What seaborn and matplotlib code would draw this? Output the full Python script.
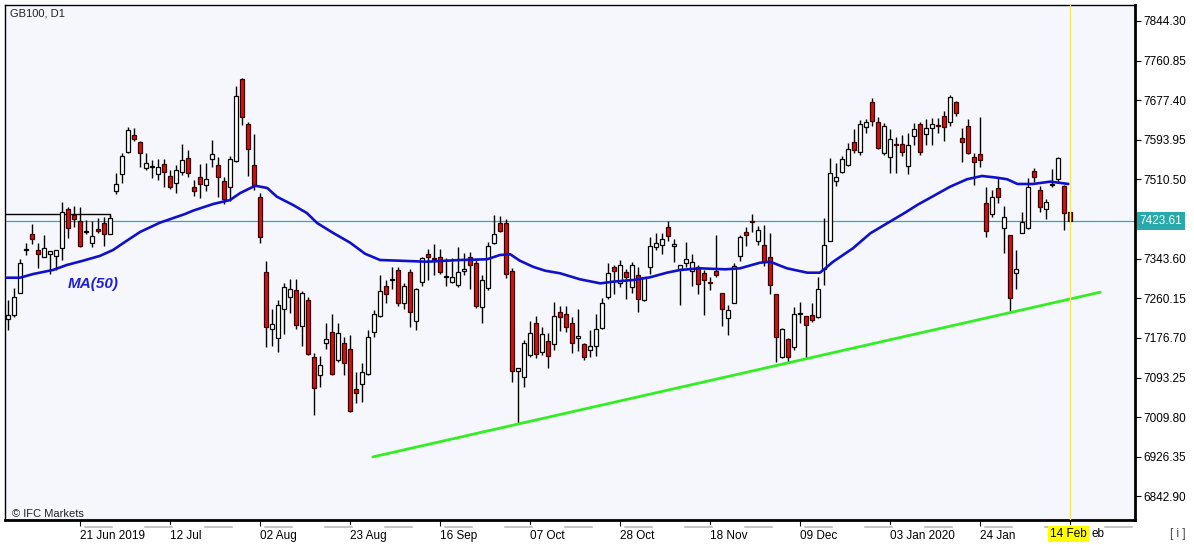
import numpy as np
import pandas as pd
import matplotlib
matplotlib.use("Agg")
import matplotlib.pyplot as plt
import matplotlib.transforms as mtransforms
import seaborn as sns

# ---------------- data (GB100, D1) ----------------
opens = [
    7216.5, 7224.9, 7271.3, 7361.9, 7395.6, 7361.9, 7347.3, 7353.5, 7349.4, 7366.1,
    7448.3, 7435.6, 7423.0, 7399.8, 7376.6, 7406.1, 7418.8, 7395.6, 7486.2, 7521.9,
    7568.3, 7604.1, 7589.4, 7534.6, 7536.7, 7521.9, 7543.1, 7517.8, 7503.0, 7526.2,
    7555.7, 7494.6, 7515.7, 7498.8, 7553.6, 7540.9, 7507.2, 7494.6, 7549.4, 7722.1,
    7627.3, 7540.9, 7473.5, 7315.6, 7195.5, 7176.5, 7237.6, 7262.9, 7277.6, 7201.8,
    7256.6, 7136.5, 7098.6, 7165.9, 7189.1, 7130.2, 7165.9, 7153.3, 7069.1, 7079.6,
    7100.7, 7189.1, 7222.9, 7286.0, 7298.7, 7319.8, 7250.2, 7315.6, 7212.3, 7294.5,
    7353.5, 7344.5, 7347.3, 7305.0, 7294.5, 7288.2, 7317.7, 7347.3, 7334.5, 7241.8,
    7281.8, 7376.6, 7418.8, 7418.8, 7317.7, 7107.0, 7094.4, 7140.7, 7208.1, 7147.0,
    7170.2, 7163.9, 7231.3, 7227.1, 7208.1, 7176.5, 7163.9, 7151.2, 7159.6, 7197.6,
    7262.9, 7326.1, 7292.4, 7315.6, 7284.0, 7309.2, 7256.6, 7326.1, 7368.2, 7372.4,
    7410.3, 7370.3, 7321.9, 7334.5, 7317.7, 7326.1, 7313.4, 7294.5, 7317.7, 7271.3,
    7218.6, 7250.2, 7349.4, 7399.8, 7423.0, 7380.8, 7372.4, 7347.3, 7269.2, 7136.5,
    7174.4, 7157.5, 7227.1, 7222.9, 7225.0, 7220.7, 7321.9, 7380.8, 7507.2, 7526.2,
    7540.9, 7589.4, 7568.3, 7621.0, 7673.7, 7631.5, 7566.2, 7557.8, 7585.2, 7585.2,
    7538.8, 7602.0, 7627.3, 7606.2, 7618.9, 7625.2, 7644.2, 7631.5, 7673.7, 7597.8,
    7623.1, 7557.8, 7564.1, 7460.9, 7437.7, 7492.5, 7408.2, 7393.5, 7313.4, 7397.7,
    7408.2, 7528.3, 7488.3, 7448.3, 7498.8, 7511.5, 7496.7, 7442.0,
]
highs = [
    7256.6, 7281.8, 7343.0, 7376.6, 7416.7, 7376.6, 7393.5, 7359.8, 7361.9, 7463.0,
    7452.5, 7454.6, 7452.5, 7425.1, 7423.0, 7429.3, 7431.4, 7435.6, 7524.1, 7566.2,
    7621.0, 7618.9, 7591.5, 7566.2, 7551.5, 7553.6, 7553.6, 7530.4, 7541.0, 7585.2,
    7572.6, 7509.4, 7543.1, 7545.2, 7593.6, 7557.8, 7515.7, 7559.9, 7707.4, 7724.2,
    7631.5, 7606.2, 7482.0, 7338.7, 7237.6, 7256.6, 7292.4, 7300.8, 7300.8, 7275.5,
    7262.9, 7144.9, 7138.6, 7208.1, 7227.1, 7208.1, 7178.5, 7182.8, 7104.9, 7123.9,
    7193.4, 7235.5, 7309.2, 7298.7, 7326.1, 7326.1, 7292.4, 7321.9, 7281.8, 7347.1,
    7364.0, 7374.5, 7364.0, 7345.0, 7345.0, 7368.2, 7355.6, 7357.7, 7340.8, 7309.2,
    7378.7, 7435.6, 7433.5, 7427.2, 7324.0, 7113.3, 7172.3, 7212.3, 7222.9, 7199.7,
    7187.0, 7252.3, 7243.9, 7243.9, 7220.7, 7237.6, 7166.0, 7193.4, 7227.1, 7260.8,
    7334.5, 7330.3, 7340.8, 7321.9, 7336.6, 7326.1, 7300.8, 7389.3, 7397.7, 7397.7,
    7423.0, 7385.1, 7330.3, 7378.7, 7353.5, 7330.3, 7319.8, 7305.0, 7393.5, 7271.3,
    7246.0, 7334.5, 7393.5, 7410.3, 7437.7, 7412.4, 7414.6, 7397.7, 7269.2, 7197.6,
    7176.5, 7241.8, 7252.3, 7222.9, 7250.2, 7305.0, 7429.3, 7555.7, 7545.2, 7559.9,
    7587.3, 7616.8, 7635.7, 7637.9, 7682.1, 7642.1, 7629.4, 7616.8, 7599.9, 7604.1,
    7608.4, 7629.4, 7631.5, 7637.9, 7640.0, 7640.0, 7654.7, 7688.4, 7675.8, 7618.9,
    7637.9, 7566.2, 7642.1, 7494.6, 7488.3, 7515.7, 7454.6, 7393.5, 7361.9, 7441.9,
    7513.5, 7534.6, 7496.7, 7469.3, 7532.5, 7557.8, 7498.8, 7442.0,
]
lows = [
    7193.4, 7220.7, 7271.3, 7351.4, 7374.6, 7324.0, 7347.3, 7311.3, 7319.8, 7340.8,
    7387.2, 7410.3, 7368.2, 7395.6, 7368.2, 7397.7, 7370.3, 7395.6, 7479.9, 7503.0,
    7566.2, 7591.5, 7536.7, 7530.4, 7513.5, 7509.4, 7494.6, 7490.4, 7482.0, 7519.9,
    7515.7, 7475.6, 7471.4, 7486.2, 7536.7, 7473.5, 7458.8, 7465.1, 7547.3, 7625.2,
    7517.8, 7488.3, 7376.6, 7157.5, 7159.6, 7147.0, 7185.0, 7229.2, 7195.5, 7159.6,
    7140.7, 7014.3, 7073.3, 7153.3, 7098.6, 7126.0, 7098.6, 7020.6, 7039.6, 7041.7,
    7098.6, 7178.5, 7220.7, 7250.2, 7279.7, 7243.9, 7237.6, 7199.7, 7193.4, 7286.0,
    7298.7, 7309.2, 7311.3, 7286.0, 7292.4, 7284.0, 7309.2, 7279.7, 7239.7, 7208.1,
    7277.6, 7374.5, 7399.8, 7302.9, 7083.8, 6997.5, 7073.3, 7136.5, 7134.4, 7140.7,
    7113.3, 7151.2, 7191.3, 7189.1, 7144.9, 7149.1, 7130.2, 7136.5, 7138.6, 7195.5,
    7258.7, 7269.2, 7284.0, 7258.7, 7271.3, 7231.3, 7254.5, 7311.3, 7361.9, 7353.5,
    7380.8, 7336.6, 7246.0, 7326.1, 7286.0, 7269.2, 7225.0, 7277.6, 7305.0, 7202.0,
    7182.8, 7250.2, 7338.7, 7370.3, 7399.8, 7372.4, 7328.2, 7269.2, 7126.0, 7134.4,
    7126.0, 7151.2, 7208.1, 7134.4, 7210.2, 7218.6, 7288.2, 7380.8, 7496.7, 7524.1,
    7538.8, 7566.2, 7562.0, 7608.4, 7623.1, 7574.7, 7562.0, 7524.1, 7524.1, 7559.9,
    7522.0, 7583.1, 7562.0, 7583.1, 7583.1, 7608.4, 7591.5, 7623.1, 7644.2, 7547.3,
    7564.1, 7498.8, 7536.7, 7389.3, 7431.4, 7460.9, 7355.6, 7231.3, 7279.7, 7397.7,
    7406.1, 7505.1, 7441.9, 7427.2, 7494.6, 7505.1, 7404.0, 7423.0,
]
closes = [
    7224.9, 7262.9, 7334.5, 7364.0, 7385.1, 7353.5, 7366.1, 7359.8, 7361.9, 7441.9,
    7408.2, 7427.2, 7370.3, 7401.9, 7391.4, 7401.9, 7395.6, 7429.3, 7501.0, 7559.9,
    7614.7, 7595.7, 7566.2, 7545.2, 7538.8, 7536.7, 7526.2, 7494.6, 7530.4, 7551.5,
    7524.1, 7486.2, 7501.0, 7511.5, 7564.1, 7515.7, 7469.3, 7553.6, 7686.3, 7642.1,
    7574.7, 7498.8, 7389.3, 7199.7, 7205.0, 7246.0, 7283.9, 7279.7, 7204.4, 7271.3,
    7142.8, 7071.2, 7119.6, 7174.4, 7100.7, 7187.0, 7123.9, 7022.7, 7060.6, 7104.9,
    7178.5, 7227.1, 7275.5, 7269.2, 7300.8, 7250.2, 7286.0, 7231.3, 7279.7, 7345.0,
    7347.3, 7342.4, 7315.6, 7307.1, 7305.0, 7315.6, 7321.9, 7330.3, 7243.9, 7298.7,
    7370.3, 7395.6, 7401.9, 7311.3, 7107.0, 7113.3, 7165.9, 7187.0, 7142.8, 7185.0,
    7138.6, 7222.9, 7220.7, 7199.7, 7165.9, 7180.7, 7136.5, 7159.6, 7195.5, 7250.2,
    7313.4, 7317.7, 7330.3, 7305.0, 7330.3, 7258.7, 7305.0, 7370.3, 7376.6, 7385.1,
    7391.4, 7374.5, 7330.3, 7342.9, 7336.6, 7290.3, 7298.7, 7292.0, 7309.2, 7237.6,
    7235.5, 7328.2, 7389.3, 7393.5, 7421.0, 7404.0, 7336.6, 7288.2, 7178.5, 7195.5,
    7136.5, 7227.1, 7229.2, 7203.9, 7214.4, 7279.7, 7372.4, 7524.1, 7515.7, 7553.6,
    7574.7, 7572.6, 7627.3, 7631.5, 7633.6, 7576.8, 7623.1, 7595.7, 7583.0, 7568.3,
    7583.1, 7616.8, 7568.3, 7618.9, 7627.3, 7623.0, 7621.0, 7684.2, 7650.5, 7589.4,
    7566.2, 7547.3, 7551.5, 7401.9, 7473.5, 7473.5, 7431.4, 7260.8, 7321.9, 7420.9,
    7494.6, 7515.7, 7452.5, 7463.0, 7501.0, 7555.7, 7439.8, 7423.61,
]

# MA(50) (bar index, value)
ma_idx = [-0.2, 2.0, 4.2, 7.5, 9.8, 12.5, 15.3, 17.5, 19.8, 22.0, 25.3, 29.5, 30.8,
          34.2, 37.0, 38.7, 41.2, 43.2, 44.8, 47.5, 49.8, 51.5, 54.2, 57.0, 59.5,
          62.0, 65.3, 69.8, 75.3, 79.8, 82.0, 83.7, 85.3, 87.5, 89.5, 92.0, 95.3,
          98.7, 100.8, 104.2, 107.0, 109.8, 112.0, 115.3, 119.5, 122.0, 125.3, 127.0,
          129.8, 133.2, 135.3, 137.5, 140.8, 143.7, 146.5, 149.5, 151.5, 154.2, 157.0,
          159.8, 162.3, 164.8, 166.5, 168.2, 170.8, 173.7, 176.7]
ma_val = [7303.5, 7303.5, 7311.3, 7319.8, 7330.3, 7339.3, 7349.4, 7361.9, 7381.5,
          7399.8, 7419.4, 7437.7, 7444.6, 7458.8, 7467.2, 7481.9, 7497.3, 7492.5,
          7474.2, 7456.7, 7439.8, 7418.8, 7397.7, 7377.4, 7354.0, 7340.8, 7339.3,
          7337.2, 7340.8, 7342.3, 7351.4, 7352.8, 7339.3, 7326.5, 7318.3, 7312.8,
          7300.2, 7291.6, 7295.1, 7298.7, 7304.4, 7314.1, 7319.8, 7323.3, 7321.2,
          7323.3, 7335.1, 7337.2, 7323.3, 7314.1, 7314.1, 7337.2, 7365.5, 7397.1,
          7418.2, 7440.6, 7456.7, 7475.6, 7495.3, 7510.9, 7517.8, 7514.2, 7510.9,
          7501.0, 7501.0, 7505.9, 7501.0]

# support trendline (bar index, price)
trend_idx = [60.8, 182.0]
trend_val = [6926.0, 7273.0]

# horizontal level drawn on the left
level_idx = [-0.5, 17.0]
level_val = 7437.7
level_hook = 7431.0

last_price = 7423.61
current_bar = 177

xtick_idx = [12, 27, 42, 57, 72, 87, 102, 117, 132, 147, 162]
xtick_labels = ["21 Jun 2019", "12 Jul", "02 Aug", "23 Aug", "16 Sep", "07 Oct",
                "28 Oct", "18 Nov", "09 Dec", "03 Jan 2020", "24 Jan"]
current_label = "14 Feb"
hidden_label_tail = "eb"

ytick_vals = [7844.30, 7760.85, 7677.40, 7593.95, 7510.50, 7343.60, 7260.15,
              7176.70, 7093.25, 7009.80, 6926.35, 6842.90]

# ---------------- figure ----------------
sns.set_style("white")
plt.rcParams["font.family"] = ["Liberation Sans", "DejaVu Sans"]

W, H = 1194, 545
fig = plt.figure(figsize=(W / 100, H / 100), dpi=100)
fig.patch.set_facecolor("white")
ax = fig.add_axes([5 / W, 1 - 520 / H, (1135 - 5) / W, (520 - 5) / H])
ax.set_facecolor("#F6F7FD")

df = pd.DataFrame({"o": opens, "h": highs, "l": lows, "c": closes})
df["i"] = np.arange(len(df))
up = df["c"] >= df["o"]

# wicks
ax.vlines(df["i"], df["l"], df["h"], color="black", lw=1.0, zorder=3)
# bodies
body_lo = np.minimum(df["o"], df["c"])
body_h = np.abs(df["c"] - df["o"])
ax.bar(df["i"][up], body_h[up], bottom=body_lo[up], width=0.72,
       color="white", edgecolor="black", linewidth=0.9, zorder=4)
ax.bar(df["i"][~up], body_h[~up], bottom=body_lo[~up], width=0.72,
       color="#D01414", edgecolor="#3a0000", linewidth=0.9, zorder=4)

# MA(50)
sns.lineplot(x=ma_idx, y=ma_val, ax=ax, color="#1010C8", lw=1.9, zorder=5,
             sort=False, estimator=None)
# trendline
sns.lineplot(x=trend_idx, y=trend_val, ax=ax, color="#33EE22", lw=2.0, zorder=5,
             sort=False, estimator=None)

# horizontal drawn level
ax.plot([level_idx[0], level_idx[1], level_idx[1]], [level_val, level_val, level_hook],
        color="black", lw=1.0, zorder=2)

# current price line
ax.axhline(last_price, color="#2AAFB0", lw=0.9, zorder=2)
# current bar vertical line
ax.axvline(current_bar, color="#F3E66A", lw=1.0, zorder=6)

ax.set_xlim(-0.5, 187.8)
ax.set_ylim(6793.1, 7878.0)

# y axis on the right
ax.yaxis.tick_right()
ax.set_yticks(ytick_vals)
ax.set_yticklabels([f"{v:.2f}" for v in ytick_vals])
ax.tick_params(axis="y", which="both", right=True, left=False, length=4, width=0.8,
               pad=2, labelsize=8.5, colors="black", direction="out")

# x axis
ax.set_xticks(xtick_idx + [current_bar])
ax.set_xticklabels(xtick_labels + [""])
for lab in ax.get_xticklabels():
    lab.set_ha("left")
ax.tick_params(axis="x", bottom=True, length=4, width=0.8, pad=3, labelsize=8.5,
               colors="black", direction="out")

for s in ["top", "left"]:
    ax.spines[s].set_linewidth(1.0)
for s in ["right", "bottom"]:
    ax.spines[s].set_linewidth(2.0)
for s in ax.spines.values():
    s.set_color("black")
ax.set_xlabel("")
ax.set_ylabel("")
legend = ax.get_legend()
if legend is not None:
    legend.remove()

# week shading strip under the time axis
trans_xa = mtransforms.blended_transform_factory(ax.transData, ax.transAxes)
week_blocks = [(12.5 + 10 * k, 5) for k in range(18)]
ax.broken_barh(week_blocks, (-0.016, 0.007), transform=trans_xa,
               facecolor="#B8B8B8", clip_on=False, zorder=1)

# price label on the axis
trans_ay = mtransforms.blended_transform_factory(ax.transAxes, ax.transData)
ax.text(1.004, last_price, f"{last_price:.2f}", transform=trans_ay, ha="left",
        va="center", fontsize=8.5, color="white", zorder=10, clip_on=False,
        bbox=dict(boxstyle="square,pad=0.25", facecolor="#2AA9AA", edgecolor="none"))

# current date label highlighted, with the tail of the covered label after it
ax.text(current_bar - 0.3, -0.027, current_label, transform=trans_xa, ha="center",
        va="center", fontsize=8.5, color="black", zorder=10, clip_on=False,
        bbox=dict(boxstyle="square,pad=0.15", facecolor="#FFFF00", edgecolor="none"))
ax.text(current_bar + 3.6, -0.027, hidden_label_tail, transform=trans_xa, ha="left",
        va="center", fontsize=8.5, color="black", zorder=9, clip_on=False)

# annotations
ax.text(10, 7290, "MA(50)", color="#1F1FD6", fontsize=11, fontweight="bold",
        fontstyle="italic", ha="left", va="center", zorder=7)
fig.text(10 / W, 1 - 14 / H, "GB100, D1", fontsize=8, color="#222222",
         ha="left", va="center")
fig.text(12 / W, 1 - 514 / H, "© IFC Markets", fontsize=8, color="#222222",
         ha="left", va="center")
fig.text(1170 / W, 1 - 534 / H, "[ i ]", fontsize=8.5, color="#444444",
         ha="left", va="center")

fig.savefig("out.png", dpi=100, facecolor="white")
